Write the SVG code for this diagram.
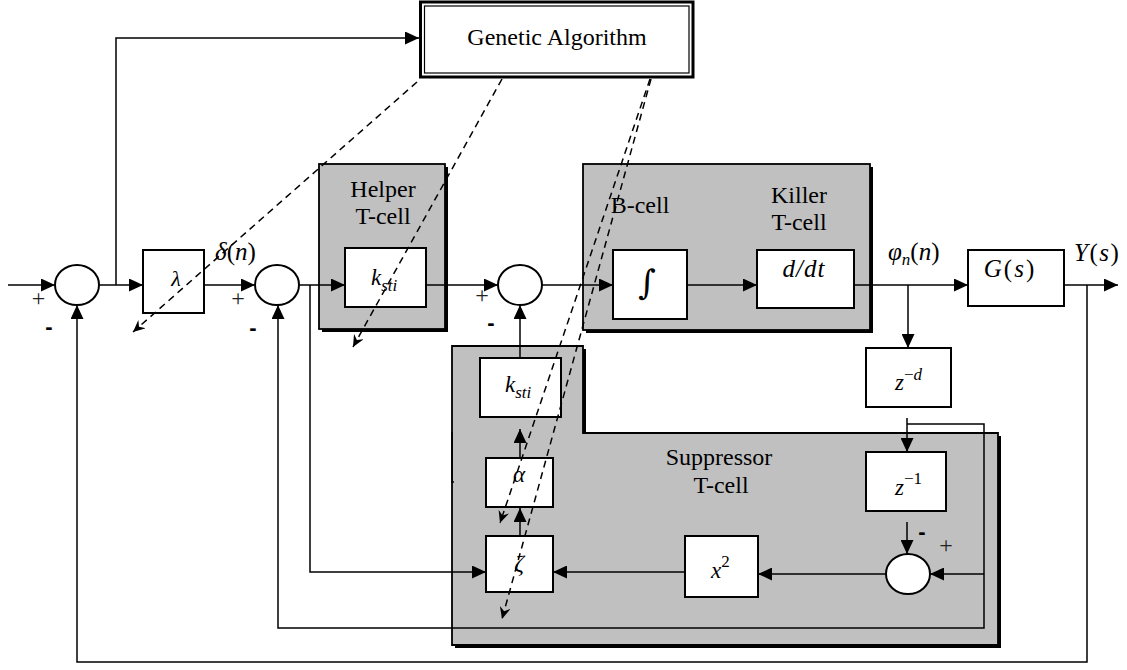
<svg xmlns="http://www.w3.org/2000/svg" width="1127" height="670" viewBox="0 0 1127 670">
<style>
.lbl{font-family:"Liberation Serif","Times New Roman",serif;font-size:24px;text-anchor:middle;fill:#000}
.m{font-family:"Liberation Serif","Times New Roman",serif;font-size:25px;font-style:italic;fill:#000}
.up{font-style:normal}
.sub{font-size:17px}
.sgn{font-family:"Liberation Serif",serif;font-size:24px;text-anchor:middle;fill:#222}
.neg{font-family:"Liberation Sans",Arial,sans-serif;font-size:22px;font-weight:bold;text-anchor:middle;fill:#000}
.box{fill:#fff;stroke:#000;stroke-width:2}
.gray{fill:#c0c0c0;stroke:#000;stroke-width:1.8}
.shadow{fill:#000}
.sum{fill:#fff;stroke:#000;stroke-width:2}
.conn{fill:none;stroke:#000;stroke-width:1.5}
.dash{fill:none;stroke:#000;stroke-width:1.5;stroke-dasharray:7 5}
</style>
<defs>
<marker id="ah" markerUnits="userSpaceOnUse" markerWidth="14" markerHeight="13" refX="14" refY="6.5" orient="auto">
<path d="M0,0 L14,6.5 L0,13 z" fill="#000"/>
</marker>
<marker id="dh" markerUnits="userSpaceOnUse" markerWidth="13" markerHeight="11" refX="12" refY="5.5" orient="auto">
<path d="M0,0 L12,5.5 L0,11 L4,5.5 z" fill="#000"/>
</marker>
</defs>
<rect width="1127" height="670" fill="#fff"/>

<!-- gray container boxes -->
<g id="helper-tcell">
<rect class="shadow" x="322" y="167" width="126" height="165"/>
<rect class="gray" x="319" y="164" width="126" height="165"/>
<text class="lbl" x="383" y="197">Helper</text>
<text class="lbl" x="383" y="224">T-cell</text>
</g>
<g id="bk-cell">
<rect class="shadow" x="586" y="167" width="287" height="166"/>
<rect class="gray" x="583" y="164" width="287" height="166"/>
<text class="lbl" x="640" y="213">B-cell</text>
<text class="lbl" x="799" y="203">Killer</text>
<text class="lbl" x="799" y="230">T-cell</text>
</g>
<g id="suppressor-tcell">
<path class="shadow" d="M455,349 H586 V436 H1001 V648 H455 z"/>
<path class="gray" d="M452,346 H583 V433 H998 V645 H452 z"/>
<path d="M452,432 V482 h2" fill="none" stroke="#000" stroke-width="1.5"/>
<text class="lbl" x="719" y="465">Suppressor</text>
<text class="lbl" x="721" y="493">T-cell</text>
</g>

<!-- connectors -->
<g id="connectors" class="conn">
<path d="M8,285 H55" marker-end="url(#ah)"/>
<path d="M99,285 H143" marker-end="url(#ah)"/>
<path d="M116,285 V38 H419" marker-end="url(#ah)"/>
<path d="M204,285 H255" marker-end="url(#ah)"/>
<path d="M299,285 H345" marker-end="url(#ah)"/>
<path d="M310,285 V572 H486" marker-end="url(#ah)"/>
<path d="M426,285 H498" marker-end="url(#ah)"/>
<path d="M542,285 H613" marker-end="url(#ah)"/>
<path d="M687,285 H757" marker-end="url(#ah)"/>
<path d="M854,285 H968" marker-end="url(#ah)"/>
<path d="M908,285 V348" marker-end="url(#ah)"/>
<path d="M1064,285 H1118" marker-end="url(#ah)"/>
<path d="M1087,285 V662 H77 V305" marker-end="url(#ah)"/>
<path d="M907,418 V452" marker-end="url(#ah)"/>
<path d="M907,424 H984 V628 H278 V305" marker-end="url(#ah)"/>
<path d="M984,574 H930" marker-end="url(#ah)"/>
<path d="M907,522 V554" marker-end="url(#ah)"/>
<path d="M886,574 H758" marker-end="url(#ah)"/>
<path d="M685,572 H553" marker-end="url(#ah)"/>
<path d="M520,536 V508" marker-end="url(#ah)"/>
<path d="M520,458 V429" marker-end="url(#ah)"/>
<path d="M520,358 V305" marker-end="url(#ah)"/>
</g>

<!-- nodes -->
<g id="ga">
<rect x="420.5" y="2" width="272.5" height="75" fill="#fff" stroke="#000" stroke-width="3"/>
<rect x="424.5" y="6" width="264.5" height="67" fill="none" stroke="#000" stroke-width="1.2"/>
<text class="lbl" x="557" y="45">Genetic Algorithm</text>
</g>
<g id="sum1">
<ellipse class="sum" cx="77" cy="285" rx="22" ry="20"/>
<text class="sgn" x="38.5" y="306">+</text>
<text class="neg" x="49" y="334">-</text>
</g>
<g id="lambda">
<rect class="box" x="143" y="250" width="61" height="63"/>
<text class="m" x="176" y="286" text-anchor="middle" style="font-size:22px">λ</text>
</g>
<g id="delta-label">
<text class="m" x="215" y="260">δ<tspan class="up">(</tspan>n<tspan class="up">)</tspan></text>
</g>
<g id="sum2">
<ellipse class="sum" cx="277" cy="285" rx="22" ry="20"/>
<text class="sgn" x="238" y="306">+</text>
<text class="neg" x="253" y="335">-</text>
</g>
<g id="helper-k">
<rect class="box" x="345" y="248" width="81" height="59"/>
<text class="m" x="371" y="285" style="font-size:23px">k<tspan class="sub" dy="6">sti</tspan></text>
</g>
<g id="sum3">
<ellipse class="sum" cx="520" cy="285" rx="22" ry="20"/>
<text class="sgn" x="482" y="303">+</text>
<text class="neg" x="491" y="330">-</text>
</g>
<g id="integrator">
<rect class="box" x="613" y="250" width="74" height="69"/>
<text x="647" y="294" style="font-family:'DejaVu Serif',serif;font-size:34px" text-anchor="middle">∫</text>
</g>
<g id="derivative">
<rect class="box" x="757" y="250" width="97" height="58"/>
<text class="m" x="804" y="277" text-anchor="middle" style="letter-spacing:1px">d/dt</text>
</g>
<g id="phi-label">
<text class="m" x="888" y="260">φ<tspan class="sub" dy="5">n</tspan><tspan class="up" dy="-5">(</tspan>n<tspan class="up">)</tspan></text>
</g>
<g id="plant">
<rect class="box" x="968" y="250" width="96" height="56"/>
<text class="m" x="1010" y="277" text-anchor="middle" style="letter-spacing:2px">G<tspan class="up">(</tspan>s<tspan class="up">)</tspan></text>
</g>
<g id="y-label">
<text class="m" x="1074" y="261" style="letter-spacing:1.5px">Y<tspan class="up">(</tspan>s<tspan class="up">)</tspan></text>
</g>
<g id="delay-d">
<rect class="box" x="866" y="348" width="85" height="59"/>
<text class="m" x="895" y="390" style="font-size:23px">z<tspan class="sub" dy="-10"><tspan class="up">−</tspan>d</tspan></text>
</g>
<g id="delay-1">
<rect class="box" x="866" y="452" width="80" height="59"/>
<text class="m" x="895" y="495" style="font-size:23px">z<tspan class="sub" dy="-11"><tspan class="up">−1</tspan></tspan></text>
</g>
<g id="sum4">
<ellipse class="sum" cx="908" cy="574" rx="22" ry="20"/>
<text class="neg" x="922" y="539">-</text>
<text class="sgn" x="946" y="553">+</text>
</g>
<g id="square">
<rect class="box" x="685" y="536" width="73" height="61"/>
<text class="m" x="711" y="578" style="font-size:23px">x<tspan class="sub up" dy="-11">2</tspan></text>
</g>
<g id="suppressor-k">
<rect class="box" x="480" y="358" width="81" height="59"/>
<text class="m" x="505" y="392" style="font-size:23px">k<tspan class="sub" dy="6">sti</tspan></text>
</g>
<g id="alpha">
<rect class="box" x="486" y="458" width="67" height="49"/>
<text class="m" x="519" y="482" text-anchor="middle" style="font-size:23px">α</text>
</g>
<g id="zeta">
<rect class="box" x="486" y="536" width="67" height="56"/>
<text class="m" x="519" y="571" text-anchor="middle" style="font-size:24px">ζ</text>
</g>

<!-- GA parameter links -->
<g id="ga-links" class="dash">
<path d="M417,82 L133,332" marker-end="url(#dh)"/>
<path d="M502,79 L353,347" marker-end="url(#dh)"/>
<path d="M650,79 L500,523" marker-end="url(#dh)"/>
<path d="M651,79 L502,619" marker-end="url(#dh)"/>
</g>
</svg>
